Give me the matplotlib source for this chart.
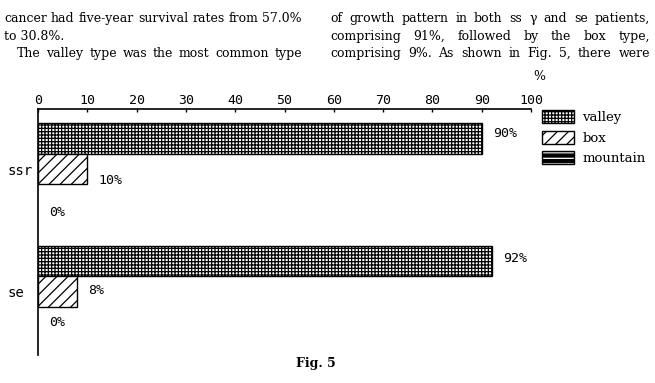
import matplotlib
matplotlib.use("Agg")
import matplotlib.pyplot as plt
from matplotlib.patches import Rectangle
from matplotlib.legend_handler import HandlerTuple

# ---- data ----
groups = ["ssr", "se"]
series = ["valley", "box", "mountain"]
valley = [90, 92]
box = [10, 8]
mountain = [0, 0]
xticks = [0, 10, 20, 30, 40, 50, 60, 70, 80, 90, 100]

left_col = ["cancer had five-year survival rates from 57.0%",
            "to 30.8%.",
            "The valley type was the most common type"]
right_col = ["of growth pattern in both ss \u03b3 and se patients,",
             "comprising 91%, followed by the box type,",
             "comprising 9%. As shown in Fig. 5, there were"]

# ---- style ----
W, H = 655, 383
fig = plt.figure(figsize=(W / 100, H / 100), dpi=100)
plt.rcParams['hatch.linewidth'] = 0.9
mono = "DejaVu Sans Mono"
serif = "DejaVu Serif"

ax = fig.add_axes([38 / W, 1 - 355 / H, 493 / W, 246 / H])
hatches = ["+++++", "///", "--"]
faces = ["white", "white", "black"]
label_dy = [[3.5, -8.5, -9.5], [1.5, 0.5, 0]]  # points, label vertical offsets

for gi, g in enumerate(groups):
    vals = [valley[gi], box[gi], mountain[gi]]
    base = gi * 4
    for si, v in enumerate(vals):
        y = base + si - 1
        if v > 0:
            ax.barh(y, v, height=1.0, left=0, facecolor=faces[si],
                    edgecolor="black", hatch=hatches[si], linewidth=1.0)
        ax.annotate(f"{v}%", xy=(v, y), xytext=(8, label_dy[gi][si]),
                    textcoords="offset points", ha="left", va="center",
                    fontsize=9.5, family=mono)

ax.set_xlim(0, 100)
ax.set_ylim(6.07, -1.96)
ax.set_yticks([0, 4])
ax.set_yticklabels(groups, family=mono, fontsize=10)
for t in ax.get_yticklabels():
    t.set_ha("left")
ax.tick_params(axis="y", length=0, pad=22)
ax.xaxis.tick_top()
ax.set_xticks(xticks)
ax.set_xticklabels([str(x) for x in xticks], family=mono, fontsize=9.5)
ax.tick_params(axis="x", direction="in", length=2.5, width=1.0, pad=1.5)
for s in ["right", "bottom"]:
    ax.spines[s].set_visible(False)
for s in ["top", "left"]:
    ax.spines[s].set_linewidth(1.2)

# legend
h_valley = Rectangle((0, 0), 1, 1, facecolor="white", edgecolor="black",
                     hatch=hatches[0], linewidth=1.0)
h_box = Rectangle((0, 0), 1, 1, facecolor="white", edgecolor="black",
                  hatch=hatches[1], linewidth=1.0)
h_m1 = Rectangle((0, 0), 1, 1, facecolor="black", edgecolor="white",
                 hatch="---", linewidth=0)
h_m2 = Rectangle((0, 0), 1, 1, fill=False, edgecolor="black", linewidth=1.0)
leg = fig.legend([h_valley, h_box, (h_m1, h_m2)], series,
                 handler_map={tuple: HandlerTuple(ndivide=1, pad=0)},
                 loc="upper left", bbox_to_anchor=(542 / W, 1 - 110 / H),
                 frameon=False, borderpad=0, borderaxespad=0,
                 handlelength=2.45, handleheight=1.15, handletextpad=0.6,
                 labelspacing=0.5, prop={"family": serif, "size": 9.5})

fig.text(539 / W, 1 - 76 / H, "%", family=serif, fontsize=9, ha="center",
         va="center")

# page text (justified lines)
renderer = fig.canvas.get_renderer()


def put_line(text, x0, x1, baseline, justify):
    words = text.split(" ")
    if not justify or len(words) == 1:
        fig.text(x0 / W, 1 - baseline / H, text, family=serif, fontsize=9,
                 ha="left", va="baseline")
        return
    arts = [fig.text(0, 1 - baseline / H, w, family=serif, fontsize=9,
                     ha="left", va="baseline") for w in words]
    widths = [a.get_window_extent(renderer).width for a in arts]
    gap = (x1 - x0 - sum(widths)) / (len(words) - 1)
    x = x0
    for a, wd in zip(arts, widths):
        a.set_x(x / W)
        x += wd + gap


baselines = [22, 40, 57]
put_line(left_col[0], 4, 302, baselines[0], True)
put_line(left_col[1], 4, 302, baselines[1], False)
put_line(left_col[2], 17, 302, baselines[2], True)
for i, line in enumerate(right_col):
    put_line(line, 330, 650, baselines[i], True)

fig.text(316 / W, 1 - 364 / H, "Fig. 5", family=serif, fontsize=9,
         weight="bold", ha="center", va="center")

fig.savefig("out.png", dpi=100)
